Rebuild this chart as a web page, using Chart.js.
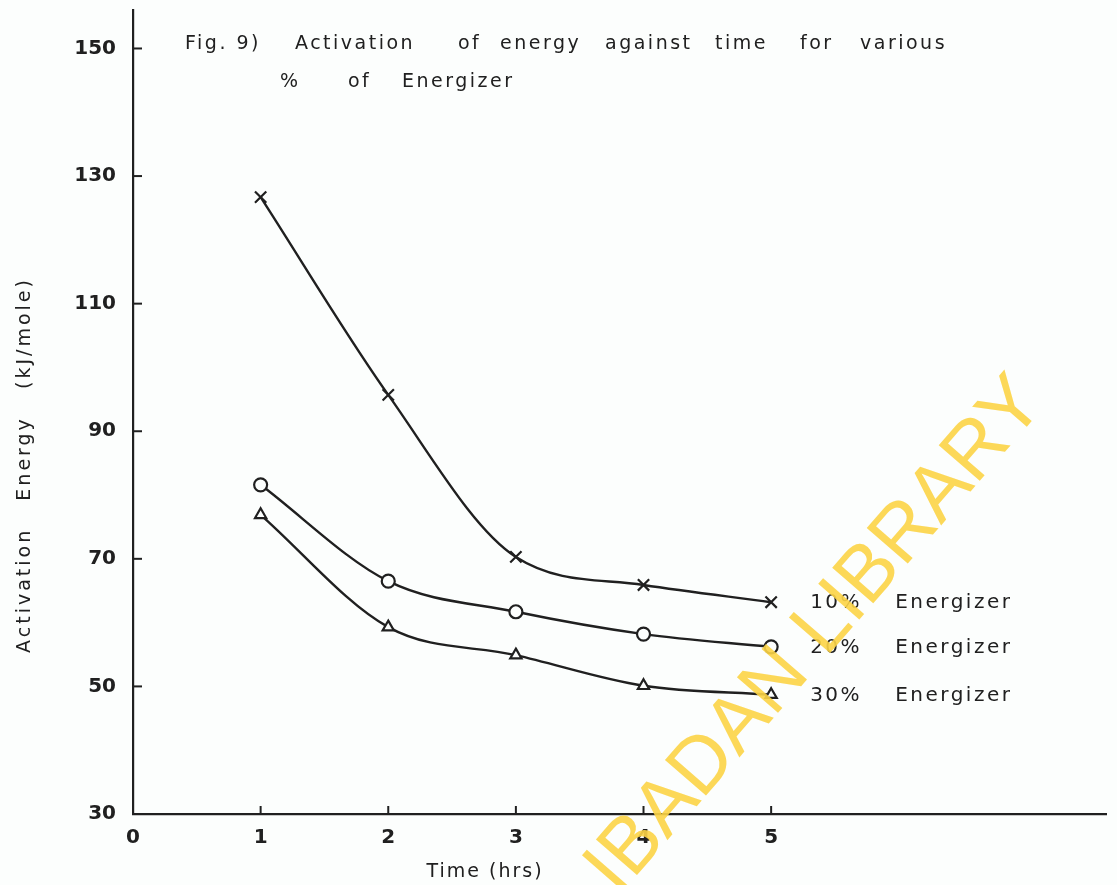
<!DOCTYPE html>
<html>
<head>
<meta charset="utf-8">
<script src="https://cdn.jsdelivr.net/npm/chart.js@4.4.0/dist/chart.umd.min.js"></script>
<style>
  html, body { margin: 0; padding: 0; background: #fcfefd; }
  #wrap { width: 1117px; height: 885px; }
</style>
</head>
<body>
<div id="wrap"><canvas id="grafica"></canvas></div>
<script>
// datos
var tiempo = [1, 2, 3, 4, 5];
var energia10 = [126.7, 95.7, 70.3, 65.9, 63.2];
var energia20 = [81.6, 66.5, 61.7, 58.2, 56.2];
var energia30 = [76.9, 59.3, 54.9, 50.1, 48.7];
var etiquetas = ['10%', '20%', '30%'];
var ticksY = [30, 50, 70, 90, 110, 130, 150];
var ticksX = [0, 1, 2, 3, 4, 5];

var tinta = '#202020';

function puntos(valores) {
    var res = [];
    for (let i = 0; i < tiempo.length; i++) {
        res.push({x: tiempo[i], y: valores[i]});
    }
    return res;
}

function serie(valores, estilo) {
    return {
        data: puntos(valores),
        borderColor: tinta,
        borderWidth: 2.4,
        pointStyle: estilo,
        pointRadius: estilo == 'crossRot' ? 8 : 6.5,
        pointBorderWidth: 2.2,
        pointBorderColor: tinta,
        pointBackgroundColor: '#fcfefd',
        cubicInterpolationMode: 'monotone',
        fill: false
    };
}

// fondo, marcas hacia adentro, textos
var decorado = {
    id: 'decorado',
    beforeDraw: function(chart) {
        var ctx = chart.ctx;
        ctx.save();
        ctx.fillStyle = '#fcfefd';
        ctx.fillRect(0, 0, chart.width, chart.height);
        ctx.restore();
    },
    afterDraw: function(chart) {
        var ctx = chart.ctx;
        var sx = chart.scales.x, sy = chart.scales.y;
        var area = chart.chartArea;
        ctx.save();
        ctx.strokeStyle = tinta;
        ctx.lineWidth = 2;
        ticksY.forEach(function(v) {
            if (v == 30) return;
            var py = sy.getPixelForValue(v);
            ctx.beginPath();
            ctx.moveTo(area.left, py);
            ctx.lineTo(area.left + 9, py);
            ctx.stroke();
        });
        ticksX.forEach(function(v) {
            if (v == 0) return;
            var px = sx.getPixelForValue(v);
            ctx.beginPath();
            ctx.moveTo(px, area.bottom);
            ctx.lineTo(px, area.bottom - 8);
            ctx.stroke();
        });

        // titulo dentro del grafico
        ctx.fillStyle = tinta;
        ctx.font = '19px "DejaVu Sans"';
        ctx.letterSpacing = '2.5px';
        ctx.textBaseline = 'alphabetic';
        ctx.textAlign = 'left';
        var linea1 = [['Fig. 9)', 185], ['Activation', 295], ['of', 458], ['energy', 500],
                      ['against', 605], ['time', 715], ['for', 800], ['various', 860]];
        linea1.forEach(function(p) { ctx.fillText(p[0], p[1], 49); });
        var linea2 = [['%', 280], ['of', 348], ['Energizer', 402]];
        linea2.forEach(function(p) { ctx.fillText(p[0], p[1], 87); });

        // titulos de los ejes
        ctx.font = '19px "DejaVu Sans"';
        ctx.letterSpacing = '2px';
        ctx.textAlign = 'center';
        ctx.textBaseline = 'middle';
        ctx.fillText('Time (hrs)', 485, 872);
        ctx.save();
        ctx.letterSpacing = '3px';
        ctx.translate(25, 465);
        ctx.rotate(-Math.PI / 2);
        ctx.fillText('Activation   Energy   (kJ/mole)', 0, 0);
        ctx.restore();

        // rotulos de cada curva
        ctx.font = '20px "DejaVu Sans"';
        ctx.letterSpacing = '2.5px';
        ctx.textAlign = 'left';
        ctx.textBaseline = 'middle';
        var series = [energia10, energia20, energia30];
        for (let i = 0; i < series.length; i++) {
            var ult = series[i].length - 1;
            var px = sx.getPixelForValue(tiempo[ult]);
            var py = sy.getPixelForValue(series[i][ult]);
            ctx.fillText(etiquetas[i], px + 39, py + 1);
            ctx.fillText('Energizer', px + 124, py + 1);
        }

        // marca de agua
        ctx.letterSpacing = '0px';
        ctx.translate(816, 636);
        ctx.rotate(-49 * Math.PI / 180);
        ctx.font = '79px "Liberation Sans"';
        ctx.textAlign = 'center';
        ctx.fillStyle = 'rgba(252, 212, 70, 0.9)';
        ctx.fillText('IBADAN LIBRARY', 0, 0);
        ctx.restore();
    }
};

var ctx = document.getElementById('grafica');
var grafica = new Chart(ctx, {
    type: 'line',
    data: {
        datasets: [
            serie(energia10, 'crossRot'),
            serie(energia20, 'circle'),
            serie(energia30, 'triangle')
        ]
    },
    options: {
        responsive: true,
        maintainAspectRatio: false,
        animation: false,
        layout: { padding: { top: 10, right: 0, left: 0, bottom: 0 } },
        plugins: {
            legend: { display: false },
            tooltip: { enabled: false }
        },
        scales: {
            x: {
                type: 'linear',
                min: 0,
                max: 7.63,
                afterBuildTicks: function(scale) {
                    scale.ticks = ticksX.map(function(v) { return {value: v}; });
                },
                afterFit: function(scale) {
                    scale.height = 71;
                    scale.paddingLeft = 0;
                    scale.paddingRight = 0;
                },
                grid: { display: true, drawOnChartArea: false, drawTicks: false, color: tinta },
                border: { display: true, color: tinta, width: 2.2 },
                ticks: {
                    color: tinta,
                    padding: 12,
                    maxRotation: 0,
                    autoSkip: false,
                    font: { family: 'DejaVu Sans', size: 20, weight: 'bold' }
                }
            },
            y: {
                min: 30,
                max: 156,
                afterBuildTicks: function(scale) {
                    scale.ticks = ticksY.map(function(v) { return {value: v}; });
                },
                afterFit: function(scale) {
                    scale.width = 133;
                    scale.paddingTop = 0;
                    scale.paddingBottom = 0;
                },
                grid: { display: true, drawOnChartArea: false, drawTicks: false, color: tinta },
                border: { display: true, color: tinta, width: 2.2 },
                ticks: {
                    color: tinta,
                    padding: 17,
                    autoSkip: false,
                    font: { family: 'DejaVu Sans', size: 20, weight: 'bold' }
                }
            }
        }
    },
    plugins: [decorado]
});
</script>
</body>
</html>
